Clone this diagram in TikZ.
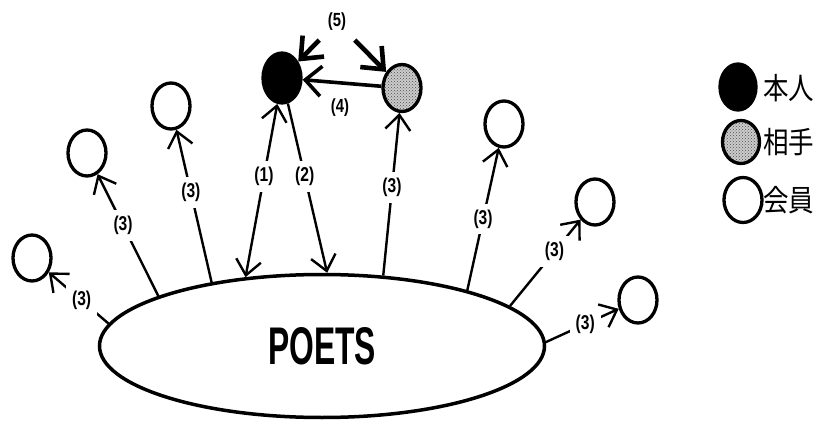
\documentclass[tikz,border=0pt]{standalone}
\usepackage{fontspec}
\setmainfont{Liberation Sans}
\newfontfamily\cjk{Noto Sans CJK JP}
\usetikzlibrary{shapes.geometric,arrows.meta,patterns}
\newcommand\nlab[1]{\scalebox{0.78}[1]{\bfseries #1}}
\newcommand\jlab[1]{\scalebox{0.85}[1]{\cjk\fontsize{30}{30}\selectfont #1}}
\begin{document}
\begin{tikzpicture}[x=1pt,y=-1pt,
  member/.style={ellipse,draw,line width=3.3pt,minimum width=38pt,minimum height=46pt,inner sep=0pt,fill=white},
  selfnode/.style={member,fill=black,minimum height=50pt},
  partner/.style={member,preaction={fill=gray!40},pattern=crosshatch dots,pattern color=black!70},
  lbl/.style={fill=white,inner sep=6pt,font=\fontsize{20}{20}\selectfont},
  lblplain/.style={inner sep=1pt,font=\fontsize{19}{19}\selectfont},
  barb/.tip={Straight Barb[length=15pt,width=25pt]},
  conn/.style={line width=2.4pt,-barb},
  conntwo/.style={line width=2.4pt,barb-barb},
  conn4/.style={line width=3.6pt,-{Straight Barb[length=16pt,width=30pt]}},
  conn5/.style={line width=4.6pt},
  bigbarb/.tip={Straight Barb[length=18pt,width=30pt]},
  legtext/.style={anchor=west,inner sep=0pt}
]
\useasboundingbox (0,0) rectangle (820,428);
% main ellipse
\node[ellipse,draw,line width=3.5pt,minimum width=445pt,minimum height=143pt,inner sep=0pt] (poets) at (322,346)
  {\scalebox{0.6}[1]{\bfseries\fontsize{53}{53}\selectfont POETS}};
% persons
\node[selfnode] (self) at (282,78) {};
\node[partner,minimum height=47pt] (partner) at (402,88) {};
\node[member] (m1) at (32,258) {};
\node[member] (m2) at (87,153) {};
\node[member] (m3) at (171,106) {};
\node[member] (m4) at (504,124) {};
\node[member] (m5) at (595,202) {};
\node[member] (m6) at (638,300) {};
% connectors (3)
\draw[conn] (poets.174) -- node[lbl,pos=0.45]{\nlab{(3)}} (m1);
\draw[conn] (poets.163) -- node[lbl,pos=0.58]{\nlab{(3)}} (m2);
\draw[conn] (poets.150) -- node[lbl,pos=0.59]{\nlab{(3)}} (m3);
\draw[conn] (poets.49.7) -- node[lbl,pos=0.54]{\nlab{(3)}} (partner);
\draw[conn] (poets.21.5) -- node[lbl,pos=0.5]{\nlab{(3)}} (m4);
\draw[conn] (poets.12.6) -- node[lbl,pos=0.63]{\nlab{(3)}} (m5);
\draw[conn] (poets.1.6) -- node[lbl,pos=0.54]{\nlab{(3)}} (m6);
% (1) and (2)
\draw[conntwo] (poets.138.7) -- node[lbl,pos=0.58]{\nlab{(1)}} (self);
\draw[conn] (self) -- node[lbl,pos=0.43]{\nlab{(2)}} (poets.86.8);
% (4)
\draw[conn4] (partner) -- (self);
\node[lblplain] (l4) at (340,108) {\nlab{(4)}};
% (5)
\node[lblplain,inner sep=9pt] (l5) at (337,22) {\nlab{(5)}};
\draw[conn5,bigbarb-] (self) -- (l5);
\draw[conn5,-bigbarb] (l5) -- (partner);
% legend
\node[selfnode,minimum width=36pt,minimum height=46pt] (lg1) at (738,87) {};
\node[partner,minimum width=37pt,minimum height=43pt] (lg2) at (741,142) {};
\node[member,minimum width=38pt,minimum height=45pt] (lg3) at (743,200) {};
\node[legtext] (t1) at (763,88) {\jlab{本人}};
\node[legtext] (t2) at (763,142) {\jlab{相手}};
\node[legtext] (t3) at (763,200) {\jlab{会員}};
\end{tikzpicture}
\end{document}
